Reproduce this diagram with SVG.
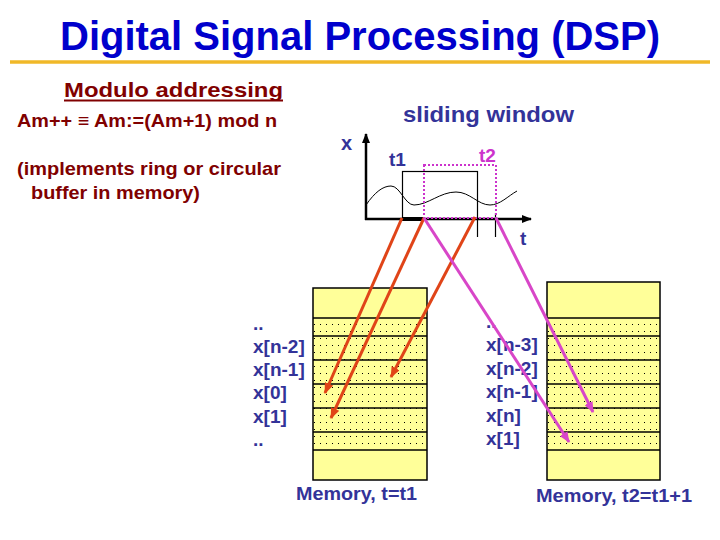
<svg xmlns="http://www.w3.org/2000/svg" width="720" height="540" viewBox="0 0 720 540">
<defs>
<pattern id="dots" x="0" y="0" width="6" height="7" patternUnits="userSpaceOnUse"><rect x="2" y="2" width="1" height="1" fill="#000"/></pattern>
<marker id="ahRed" markerWidth="11" markerHeight="9" refX="10" refY="4.5" orient="auto" markerUnits="userSpaceOnUse"><path d="M0,0 L11,4.5 L0,9 Z" fill="#e04418"/></marker>
<marker id="ahMag" markerWidth="11" markerHeight="9" refX="10" refY="4.5" orient="auto" markerUnits="userSpaceOnUse"><path d="M0,0 L11,4.5 L0,9 Z" fill="#d846c8"/></marker>
<marker id="ahAxis" markerWidth="10" markerHeight="8" refX="9" refY="4" orient="auto" markerUnits="userSpaceOnUse"><path d="M0,0 L10,4 L0,8 Z" fill="#000"/></marker>
</defs>
<style>
text{font-family:"Liberation Sans",Arial,sans-serif;font-weight:bold}
.title{fill:#0000cc;font-size:41px}
.red{fill:#800000}
.blue{fill:#333399}
.mag{fill:#cc33cc}
.lbl{fill:#333399;font-size:19px}
.mem{fill:#ffff99;stroke:#000;stroke-width:1.5}
.dot{fill:url(#dots)}
.row{stroke:#000;stroke-width:1.3}
.rarrow{stroke:#e04418;stroke-width:3;fill:none;marker-end:url(#ahRed)}
.marrow{stroke:#d846c8;stroke-width:3;fill:none;marker-end:url(#ahMag)}
</style>
<rect width="720" height="540" fill="#fff"/>

<g id="title">
<text class="title" x="60" y="50" textLength="600" lengthAdjust="spacingAndGlyphs">Digital Signal Processing (DSP)</text>
<line x1="10" y1="62" x2="710" y2="62" stroke="#f0b828" stroke-width="3.5"/>
</g>

<g id="modulo-text">
<text class="red" x="64" y="97" font-size="21" textLength="219" lengthAdjust="spacingAndGlyphs">Modulo addressing</text>
<line x1="64" y1="100.5" x2="283" y2="100.5" stroke="#800000" stroke-width="1.8"/>
<text class="red" x="17" y="127" font-size="18.5" textLength="260" lengthAdjust="spacingAndGlyphs">Am++ ≡ Am:=(Am+1) mod n</text>
<text class="red" x="17" y="175" font-size="18.5" textLength="264" lengthAdjust="spacingAndGlyphs">(implements ring or circular</text>
<text class="red" x="31" y="199" font-size="18.5" textLength="169" lengthAdjust="spacingAndGlyphs">buffer in memory)</text>
</g>

<g id="plot">
<text class="blue" x="403" y="122" font-size="21.5" textLength="171" lengthAdjust="spacingAndGlyphs">sliding window</text>
<text class="blue" x="341" y="150" font-size="20">x</text>
<text class="blue" x="389" y="166" font-size="19">t1</text>
<text class="mag" x="479" y="162" font-size="19">t2</text>
<text class="blue" x="520" y="245" font-size="19">t</text>
<line x1="366" y1="220" x2="366" y2="134" stroke="#000" stroke-width="2.5" marker-end="url(#ahAxis)"/>
<line x1="365" y1="219" x2="531" y2="219" stroke="#000" stroke-width="2.5" marker-end="url(#ahAxis)"/>
<path d="M366,205 C375,192 383,186 391,186 C400,186 405,205 414,205 C428,205 440,192 456,192 C470,192 478,205 490,205 C500,205 508,196 517,191" fill="none" stroke="#000" stroke-width="1"/>
<rect x="402.5" y="171.5" width="75" height="47.5" fill="none" stroke="#000" stroke-width="1.2"/>
<line x1="402" y1="219" x2="424" y2="219" stroke="#000" stroke-width="4"/>
<line x1="477.5" y1="219" x2="477.5" y2="237" stroke="#000" stroke-width="1.2"/>
<line x1="495.5" y1="213" x2="495.5" y2="237" stroke="#000" stroke-width="1.2"/>
<rect x="424" y="165" width="72" height="53" fill="none" stroke="#cc33cc" stroke-width="2" stroke-dasharray="2 2"/>
</g>

<g id="memory-t1">
<rect class="mem" x="313" y="288" width="114" height="192"/>
<rect class="dot" x="313" y="318" width="114" height="132"/>
<line class="row" x1="313" y1="318" x2="427" y2="318"/>
<line class="row" x1="313" y1="336" x2="427" y2="336"/>
<line class="row" x1="313" y1="360" x2="427" y2="360"/>
<line class="row" x1="313" y1="384" x2="427" y2="384"/>
<line class="row" x1="313" y1="408" x2="427" y2="408"/>
<line class="row" x1="313" y1="432" x2="427" y2="432"/>
<line class="row" x1="313" y1="450" x2="427" y2="450"/>
<text class="lbl" x="253" y="329.5">..</text>
<text class="lbl" x="253" y="352.8">x[n-2]</text>
<text class="lbl" x="253" y="376.1">x[n-1]</text>
<text class="lbl" x="253" y="399.4">x[0]</text>
<text class="lbl" x="253" y="422.7">x[1]</text>
<text class="lbl" x="253" y="446">..</text>
<text class="blue" x="296" y="500" font-size="18" textLength="121" lengthAdjust="spacingAndGlyphs">Memory, t=t1</text>
</g>

<g id="memory-t2">
<rect class="mem" x="547" y="282" width="113" height="198"/>
<rect class="dot" x="547" y="318" width="113" height="132"/>
<line class="row" x1="547" y1="318" x2="660" y2="318"/>
<line class="row" x1="547" y1="336" x2="660" y2="336"/>
<line class="row" x1="547" y1="360" x2="660" y2="360"/>
<line class="row" x1="547" y1="384" x2="660" y2="384"/>
<line class="row" x1="547" y1="408" x2="660" y2="408"/>
<line class="row" x1="547" y1="432" x2="660" y2="432"/>
<line class="row" x1="547" y1="450" x2="660" y2="450"/>
<text class="lbl" x="486" y="327.5">..</text>
<text class="lbl" x="486" y="351">x[n-3]</text>
<text class="lbl" x="486" y="374.5">x[n-2]</text>
<text class="lbl" x="486" y="398">x[n-1]</text>
<text class="lbl" x="486" y="421.5">x[n]</text>
<text class="lbl" x="486" y="445">x[1]</text>
<text class="blue" x="536" y="502" font-size="18" textLength="156" lengthAdjust="spacingAndGlyphs">Memory, t2=t1+1</text>
</g>

<g id="connectors">
<line class="rarrow" x1="402" y1="218" x2="325" y2="393"/>
<line class="rarrow" x1="424" y1="218" x2="331" y2="418"/>
<line class="rarrow" x1="475" y1="217" x2="391" y2="377"/>
<line class="marrow" x1="424" y1="218" x2="569" y2="442"/>
<line class="marrow" x1="496" y1="218" x2="593" y2="412"/>
</g>
</svg>
